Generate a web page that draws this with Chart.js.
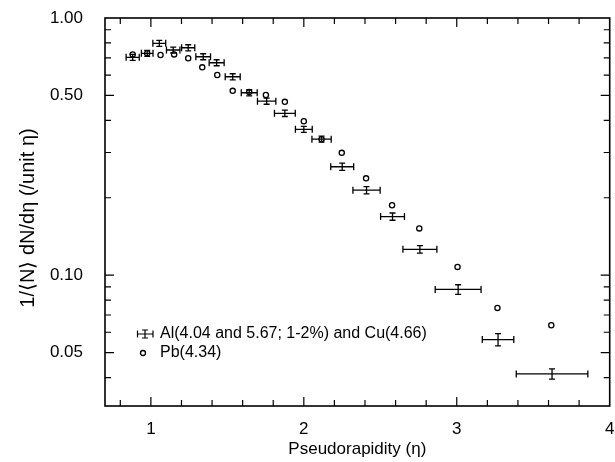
<!DOCTYPE html>
<html>
<head>
<meta charset="utf-8">
<script src="https://cdn.jsdelivr.net/npm/chart.js@4/dist/chart.umd.min.js"></script>
<style>
html,body{margin:0;padding:0;background:#fff;}
#wrap{width:615px;height:462px;position:relative;}
</style>
</head>
<body>
<div id="wrap"><canvas id="c" width="615" height="462"></canvas></div>
<script>
// ---- data ----
const etaAl = [0.881,0.976,1.055,1.146,1.244,1.342,1.430,1.535,1.643,1.757,1.876,2.000,2.116,2.251,2.410,2.580,2.759,3.009,3.270,3.623];
const dndetaAl = [0.703,0.729,0.797,0.751,0.766,0.707,0.670,0.591,0.512,0.475,0.426,0.369,0.338,0.264,0.214,0.169,0.126,0.088,0.0562,0.0413];
const etaHalfWidthAl = [0.043,0.038,0.042,0.044,0.043,0.048,0.049,0.049,0.052,0.060,0.068,0.055,0.063,0.075,0.089,0.078,0.111,0.150,0.103,0.234];
const dndetaErrAl = [0.019,0.020,0.021,0.020,0.021,0.019,0.018,0.016,0.014,0.013,0.012,0.010,0.009,0.0085,0.007,0.0055,0.0042,0.0038,0.0031,0.0019];
const etaPb = [0.881,0.976,1.063,1.152,1.244,1.336,1.434,1.535,1.643,1.752,1.876,2.000,2.116,2.248,2.407,2.577,2.755,3.005,3.266,3.618];
const dndetaPb = [0.722,0.729,0.718,0.722,0.697,0.643,0.600,0.521,0.515,0.502,0.472,0.397,0.338,0.299,0.238,0.187,0.152,0.1077,0.0746,0.0639];
const xTickValues = [0.8,1,1.2,1.4,1.6,1.8,2,2.2,2.4,2.6,2.8,3,3.2,3.4,3.6,3.8,4];
const xTickLabels = {1:'1',2:'2',3:'3',4:'4'};
const yTickValues = [0.04,0.05,0.06,0.07,0.08,0.09,0.1,0.2,0.3,0.4,0.5,0.6,0.7,0.8,0.9,1.0];
const yTickLabels = {'1':'1.00','0.5':'0.50','0.1':'0.10','0.05':'0.05'};
const legendLabels = ['Al(4.04 and 5.67; 1-2%) and Cu(4.66)','Pb(4.34)'];
const xTitle = 'Pseudorapidity (\u03b7)';
const yTitle = '1/\u27e8N\u27e9 dN/d\u03b7 (/unit \u03b7)';

const FONT = "'Liberation Sans Narrow','Arial Narrow','Liberation Sans',Arial,sans-serif";

const alData = etaAl.map((x,i)=>({x:x,y:dndetaAl[i],xMin:x-etaHalfWidthAl[i],xMax:x+etaHalfWidthAl[i],yMin:dndetaAl[i]-dndetaErrAl[i],yMax:dndetaAl[i]+dndetaErrAl[i]}));
const pbData = etaPb.map((x,i)=>({x:x,y:dndetaPb[i]}));

function drawErrBar(ctx,cx,cy,x0,x1,y0,y1){
  ctx.beginPath();
  ctx.moveTo(x0,cy);ctx.lineTo(x1,cy);
  ctx.moveTo(x0,cy-3.5);ctx.lineTo(x0,cy+3.5);
  ctx.moveTo(x1,cy-3.5);ctx.lineTo(x1,cy+3.5);
  ctx.moveTo(cx,y0);ctx.lineTo(cx,y1);
  ctx.moveTo(cx-3,y0);ctx.lineTo(cx+3,y0);
  ctx.moveTo(cx-3,y1);ctx.lineTo(cx+3,y1);
  ctx.stroke();
}

const errorBarPlugin = {
  id:'errbars',
  afterDatasetsDraw(chart){
    const ctx=chart.ctx, xs=chart.scales.x, ys=chart.scales.y;
    ctx.save();
    ctx.strokeStyle='#000';ctx.lineWidth=1.3;
    chart.data.datasets[0].data.forEach(d=>{
      const cx=xs.getPixelForValue(d.x), cy=ys.getPixelForValue(d.y);
      let y0=ys.getPixelForValue(d.yMax), y1=ys.getPixelForValue(d.yMin);
      if(y1-y0<5){const m=(y0+y1)/2;y0=m-2.5;y1=m+2.5;}
      drawErrBar(ctx,cx,cy,xs.getPixelForValue(d.xMin),xs.getPixelForValue(d.xMax),y0,y1);
    });
    ctx.restore();
  }
};

const frameTicksPlugin = {
  id:'frameTicks',
  afterDraw(chart){
    const ctx=chart.ctx, a=chart.chartArea, xs=chart.scales.x, ys=chart.scales.y;
    ctx.save();
    ctx.strokeStyle='#000';ctx.lineWidth=1.6;
    ctx.strokeRect(a.left,a.top,a.right-a.left,a.bottom-a.top);
    ctx.lineWidth=1.2;
    ctx.beginPath();
    xs.ticks.forEach(t=>{
      const p=xs.getPixelForValue(t.value);
      if(p<=a.left+1||p>=a.right-1) return;
      const L = xTickLabels[t.value]?9:6;
      ctx.moveTo(p,a.bottom);ctx.lineTo(p,a.bottom-L);
      ctx.moveTo(p,a.top);ctx.lineTo(p,a.top+L);
    });
    ys.ticks.forEach(t=>{
      const p=ys.getPixelForValue(t.value);
      if(p<=a.top+1||p>=a.bottom-1) return;
      const L = yTickLabels[String(t.value)]?9:6;
      ctx.moveTo(a.left,p);ctx.lineTo(a.left+L,p);
      ctx.moveTo(a.right,p);ctx.lineTo(a.right-L,p);
    });
    ctx.stroke();
    // legend
    ctx.fillStyle='#000';
    ctx.font='16px '+FONT;
    ctx.textBaseline='middle';ctx.textAlign='left';
    ctx.lineWidth=1.2;
    drawErrBar(ctx,145,334,137.5,153,330,338);
    ctx.fillText(legendLabels[0],160,334);
    ctx.beginPath();ctx.arc(143,353,2.5,0,Math.PI*2);ctx.lineWidth=1.3;ctx.stroke();
    ctx.fillText(legendLabels[1],160,353);
    // y-axis title
    ctx.translate(28,218);ctx.rotate(-Math.PI/2);
    ctx.font='20px '+FONT;ctx.textAlign='center';ctx.textBaseline='middle';
    ctx.fillText(yTitle,0,0);
    ctx.restore();
  }
};

new Chart(document.getElementById('c'),{
  type:'scatter',
  data:{datasets:[
    {label:legendLabels[0],data:alData,pointRadius:0,pointHoverRadius:0,showLine:false},
    {label:legendLabels[1],data:pbData,pointRadius:2.6,pointStyle:'circle',borderColor:'#000',backgroundColor:'#fff',borderWidth:1.3,showLine:false}
  ]},
  options:{
    responsive:false,animation:false,
    layout:{padding:{left:0,top:18,right:5,bottom:0}},
    plugins:{legend:{display:false},tooltip:{enabled:false}},
    scales:{
      x:{type:'linear',min:0.7,max:4.0,
        afterBuildTicks(s){s.ticks=xTickValues.map(v=>({value:v}));},
        afterFit(s){s.height=56;s.paddingRight=0;s.paddingLeft=0;},
        grid:{display:false},border:{display:false},
        ticks:{autoSkip:false,maxRotation:0,padding:5,color:'#000',font:{family:FONT,size:17},
          callback(v){return xTickLabels[v]||'';}},
        title:{display:true,text:xTitle,color:'#000',font:{family:FONT,size:17},padding:{top:0,bottom:2}}
      },
      y:{type:'logarithmic',min:0.031,max:1.0,
        afterBuildTicks(s){s.ticks=yTickValues.map(v=>({value:v}));},
        afterFit(s){s.width=105;s.paddingTop=0;s.paddingBottom=0;},
        grid:{display:false},border:{display:false},
        ticks:{autoSkip:false,padding:14,color:'#000',font:{family:FONT,size:17},
          callback(v){return yTickLabels[String(v)]||'';}},
        title:{display:false}
      }
    }
  },
  plugins:[errorBarPlugin,frameTicksPlugin]
});
</script>
</body>
</html>
